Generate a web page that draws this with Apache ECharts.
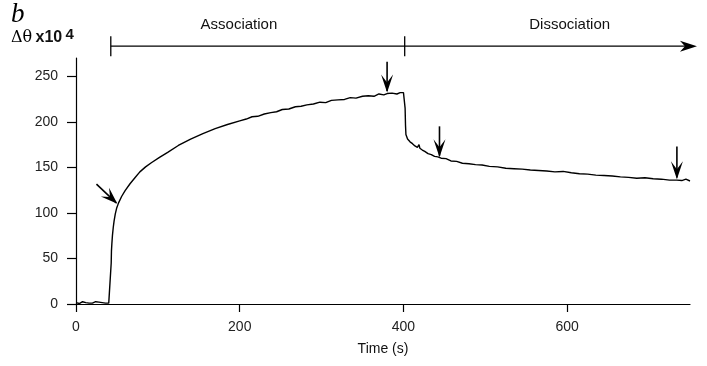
<!DOCTYPE html>
<html>
<head>
<meta charset="utf-8">
<script src="https://cdn.jsdelivr.net/npm/echarts@6/dist/echarts.min.js"></script>
<style>
html,body{margin:0;padding:0;background:#fff;}
#c{width:707px;height:366px;}
</style>
</head>
<body>
<div id="c"></div>
<script>
// ---- data ----
const time = [0,2,4,6,8,10,12,14,16,18,20,22,24,26,28,30,32,34,36,38,40,42,42.6,
  43,43.3,43.8,44.5,45.5,46.5,48,49.6,52,55.7,60,66,72,78,85,92,102,112,125,140,155,170,185,200,
  208,215,222,230,238,245,252,260,268,275,282,290,298,305,312,320,328,335,342,350,357,364,370,376,380,386,392,396,400,401.5,
  402,402.5,403,405,408,411,414,417,419,420,423,426,430,434,438,442,446,452,458,465,472,480,488,496,505,515,525,535,545,555,565,575,585,595,605,615,625,635,645,655,665,675,685,695,705,715,725,734,740,745,750];
const signal = [1.5,2,0.5,1,2.5,1,1.5,0.5,1,2,1,1.5,2.5,1,2,3,1.5,2.5,1,2,1,1.5,2,
  45,58,66,75,84,91,99,105,111,118,124.5,132,138.5,145,150.5,155,161,166.5,174,181,187,192.5,197,201,
  203,205.5,206,208.5,210,211,213.5,214,216.5,217,218.5,219.5,221.5,221,223.5,224,224.5,226.5,226,228,228.5,228,230.5,229.5,231,231.5,230.5,232,232,231,
  215,196,186,181,178,176,173.5,172,175,171,169,167.5,165,164,162,161.5,160,159.5,157,156.5,154.5,154,153,152.5,151,150.5,149,148.5,148,147,146.5,146,145,145.5,144,143,142.5,141.5,141,140.5,139.5,139,138,138.5,137.5,137,136,136,135.5,137,135];
const xTickValues = [0, 200, 400, 600];
const yTickValues = [0, 50, 100, 150, 200, 250];
// annotation arrows (data space): [time, tip value, tail value]
const downArrows = [[380, 232, 266], [444, 161, 195], [734, 137, 173]];
// diagonal arrow: tail [time, value], tip [time, value]
const diagArrowTail = [25, 131.5];
const diagArrowTip = [50.5, 110];
// phase bracket (data space)
const phaseStart = 42.5, phaseSwitch = 401.5, phaseEnd = 758.5, bracketLevel = 283, bracketHalf = 11;
const phaseLabels = ['Association', 'Dissociation'];
const phaseLabelTimes = [199, 603];
const phaseLabelLevel = 306;

const chart = echarts.init(document.getElementById('c'), null, {renderer: 'canvas'});
const FONT = '"Liberation Sans", Arial, sans-serif';
chart.setOption({
  backgroundColor: '#fff',
  animation: false,
  grid: {left: 76, right: 17, top: 58, bottom: 62},
  xAxis: {
    type: 'value', min: 0, max: 750, interval: 200,
    name: 'Time (s)', nameLocation: 'middle', nameGap: 38,
    nameTextStyle: {fontFamily: FONT, fontSize: 14, color: '#111'},
    axisLine: {show: true, onZero: false, lineStyle: {color: '#000', width: 1.2}},
    axisTick: {show: true, length: 8, customValues: xTickValues, lineStyle: {color: '#000', width: 1.2}},
    axisLabel: {fontFamily: FONT, fontSize: 14, color: '#222', margin: 16, customValues: xTickValues},
    splitLine: {show: false}
  },
  yAxis: {
    type: 'value', min: 0, max: 270, interval: 50, offset: 3,
    axisLine: {show: true, lineStyle: {color: '#000', width: 1.2}},
    axisTick: {show: true, length: 9, customValues: yTickValues, lineStyle: {color: '#000', width: 1.2}},
    axisLabel: {fontFamily: FONT, fontSize: 14, color: '#222', margin: 15, customValues: yTickValues},
    splitLine: {show: false}
  },
  series: [{
    type: 'line',
    data: time.map((t, i) => [t, signal[i]]),
    showSymbol: false,
    lineStyle: {color: '#000', width: 1.4},
    clip: false
  }]
});

function px(t, v) { return chart.convertToPixel({gridIndex: 0}, [t, v]); }
function arrowHead(tail, tip, len, half, notch) {
  const dx = tip[0] - tail[0], dy = tip[1] - tail[1];
  const L = Math.sqrt(dx*dx + dy*dy), ux = dx / L, uy = dy / L;
  const nx = -uy, ny = ux;
  const bx = tip[0] - ux*len, by = tip[1] - uy*len;
  const mx = tip[0] - ux*notch, my = tip[1] - uy*notch;
  return [[tip[0], tip[1]], [bx + nx*half, by + ny*half], [mx, my], [bx - nx*half, by - ny*half]];
}
const g = [];
function addArrow(tail, tip, len, half, notch) {
  g.push({type: 'line', shape: {x1: tail[0], y1: tail[1], x2: tip[0] - (tip[0]-tail[0])*0.05, y2: tip[1] - (tip[1]-tail[1])*0.05},
    style: {stroke: '#000', lineWidth: 1.6}, z: 10});
  g.push({type: 'polygon', shape: {points: arrowHead(tail, tip, len, half, notch)}, style: {fill: '#000'}, z: 10});
}
downArrows.forEach(a => addArrow(px(a[0], a[2]), px(a[0], a[1]), 18, 6, 10));
addArrow(px(diagArrowTail[0], diagArrowTail[1]), px(diagArrowTip[0], diagArrowTip[1]), 17, 6, 10);

// bracket
const pS = px(phaseStart, bracketLevel), pE = px(phaseEnd, bracketLevel);
const pSt = px(phaseStart, bracketLevel + bracketHalf), pSb = px(phaseStart, bracketLevel - bracketHalf);
const pMt = px(phaseSwitch, bracketLevel + bracketHalf), pMb = px(phaseSwitch, bracketLevel - bracketHalf);
g.push({type: 'line', shape: {x1: pS[0], y1: pS[1], x2: pE[0] - 10, y2: pE[1]}, style: {stroke: '#000', lineWidth: 1.3}});
g.push({type: 'line', shape: {x1: pSt[0], y1: pSt[1], x2: pSb[0], y2: pSb[1]}, style: {stroke: '#000', lineWidth: 1.3}});
g.push({type: 'line', shape: {x1: pMt[0], y1: pMt[1], x2: pMb[0], y2: pMb[1]}, style: {stroke: '#000', lineWidth: 1.3}});
g.push({type: 'polygon', shape: {points: arrowHead([pE[0] - 40, pE[1]], pE, 17, 5.5, 12)}, style: {fill: '#000'}});
phaseLabels.forEach((lab, i) => {
  const p = px(phaseLabelTimes[i], phaseLabelLevel);
  g.push({type: 'text', x: p[0], y: p[1], style: {text: lab, font: '15px ' + FONT, fill: '#111', align: 'center', verticalAlign: 'middle'}});
});
// panel letter and y-axis title
g.push({type: 'text', x: 11, y: 1, style: {text: 'b', font: 'italic 27px "Liberation Serif", "Times New Roman", serif', fill: '#000'}});
g.push({type: 'text', x: 11, y: 27, style: {
  text: '{a|Δθ} {b|x10} {s|4}',
  rich: {
    a: {fontFamily: '"DejaVu Serif", "Liberation Serif", serif', fontSize: 16, fill: '#000'},
    b: {fontFamily: FONT, fontSize: 16, fontWeight: 'bold', fill: '#111'},
    s: {fontFamily: FONT, fontSize: 15, fontWeight: 'bold', fill: '#111', padding: [0, 0, 7, 0]}
  }
}});
chart.setOption({graphic: g});
</script>
</body>
</html>
